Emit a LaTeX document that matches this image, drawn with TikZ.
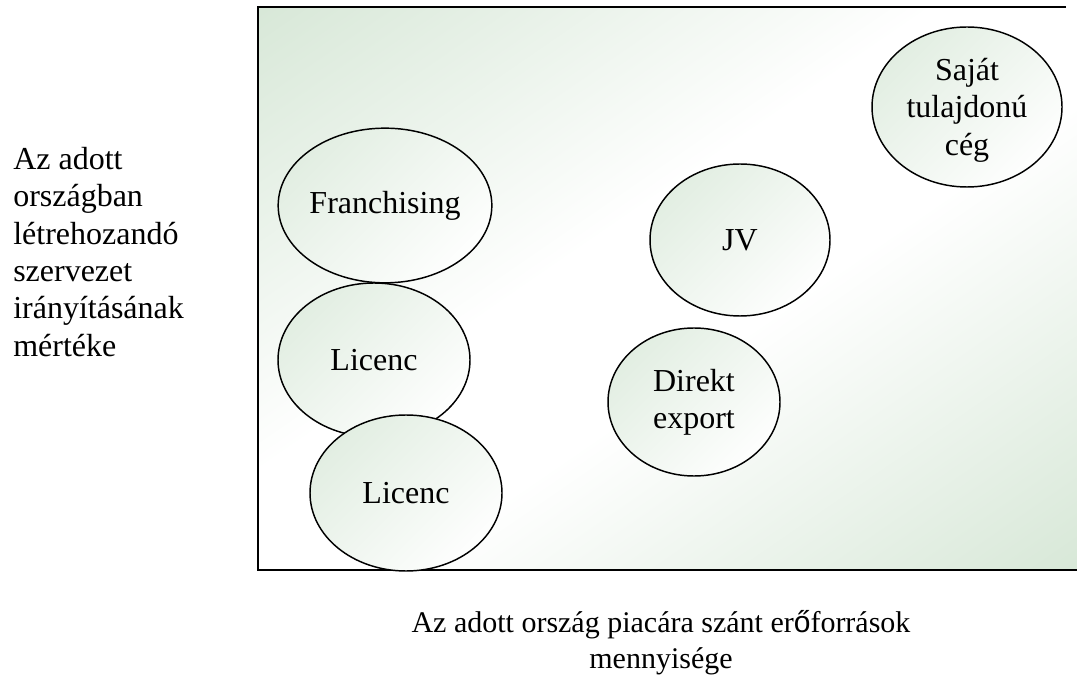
\documentclass[tikz,border=0pt]{standalone}
\usepackage{fontspec}
\setmainfont{Liberation Serif}
\newfontfamily\arialfont{Liberation Sans}
\usetikzlibrary{shapes.geometric}
\definecolor{bggreen}{RGB}{216,232,216}
\definecolor{ovgreen}{RGB}{226,238,226}

% green edges, white centre band (visible part: 25bp..75bp)
\pgfdeclarehorizontalshading{panelshade}{100bp}{
  color(0bp)=(bggreen); color(27bp)=(bggreen); color(46bp)=(white);
  color(54bp)=(white); color(73bp)=(bggreen); color(100bp)=(bggreen)}

\begin{document}
\begin{tikzpicture}[x=0.75pt,y=-0.75pt,
  txt/.style={font=\fontsize{24}{28}\selectfont, inner sep=0pt},
  oval/.style={txt, ellipse, draw=black, line width=1.1pt,
    left color=ovgreen, right color=white!96!ovgreen, shading angle=45,
    align=center}]
\useasboundingbox (0,0) rectangle (1077,680);

% background panel: white band along the rising diagonal
\begin{scope}
  \clip (258,7) rectangle (1077,570);
  \begin{scope}[transform canvas={rotate around={-55.5:(667.5,288.5)}}]
    \shade[shading=panelshade] (167.5,-211.5) rectangle (1167.5,788.5);
  \end{scope}
\end{scope}
\draw[line width=1.8pt] (1066,7) -- (258,7) -- (258,570) -- (1077,570);

% market entry modes
\node[oval, minimum width=142.5pt, minimum height=116pt] (fr) at (385,205.5) {Franchising};
\node[oval, minimum width=144pt, minimum height=115.5pt] (lic1) at (374,360) {Licenc};
\node[oval, minimum width=144pt, minimum height=117pt] (lic2) at (406,493) {Licenc};
\node[oval, minimum width=135pt, minimum height=114pt] (jv) at (740,240) {JV};
\node[oval, minimum width=129pt, minimum height=111pt] (de) at (694,402) {Direkt\\export};
\node[oval, minimum width=142.5pt, minimum height=120pt] (sa) at (967,107) {};
\node[txt, align=center] (satext) at (967,110) {Saját\\tulajdonú\\cég};

% axis captions
\node[txt, align=left, anchor=north west] (ylab) at (13,147)
  {Az adott\\országban\\létrehozandó\\szervezet\\irányításának\\mértéke};
\node[txt, font=\fontsize{22.5}{27}\selectfont, align=center, anchor=north] (xlab) at (661,610)
  {Az adott ország piacára szánt er{\arialfont ő}források\\mennyisége};
\end{tikzpicture}
\end{document}
